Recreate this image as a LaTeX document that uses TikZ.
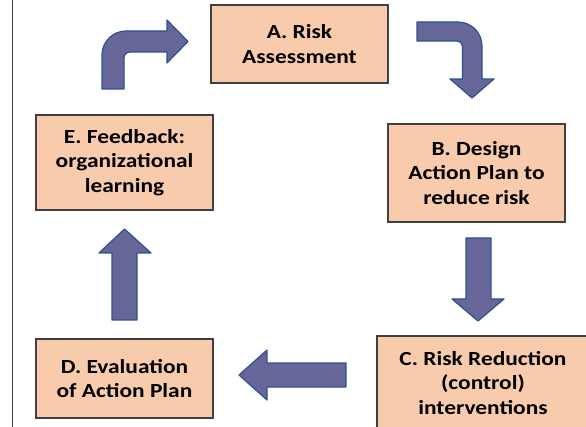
\documentclass[tikz,border=0pt]{standalone}
\usepackage{fontspec}
\setmainfont{Carlito}
\newfontfamily\stepfont[FakeStretch=1.17]{Carlito}
\usepackage{tikz}

\definecolor{boxfill}{RGB}{248,203,173}
\definecolor{boxline}{RGB}{64,64,64}
\definecolor{arrowfill}{RGB}{102,102,153}
\definecolor{arrowline}{RGB}{47,82,143}

\tikzset{
  stepbox/.style={draw=boxline, fill=boxfill, line width=1.2pt, align=center,
    font=\stepfont\fontsize{20}{24.5}\selectfont\bfseries, inner sep=0pt},
  blockarrow/.style={draw=arrowline, fill=arrowfill, line width=1.2pt, line join=round}
}

\begin{document}
\begin{tikzpicture}[x=1pt,y=-1pt]
  \useasboundingbox (0,0) rectangle (586,427);

  % Frame line on the left
  \draw[boxline, line width=1pt] (12,0) -- (12,427);

  % The five steps
  \node[stepbox, minimum width=177, minimum height=78] (A) at (299.5,44) {A. Risk\\Assessment};
  \node[stepbox, minimum width=177, minimum height=98] (B) at (476.5,173) {B. Design\\Action Plan to\\reduce risk};
  \node[stepbox, minimum width=212, minimum height=94] (C) at (483,383) {C. Risk Reduction\\(control)\\interventions};
  \node[stepbox, minimum width=177, minimum height=79] (D) at (124.5,378.5) {D. Evaluation\\of Action Plan};
  \node[stepbox, minimum width=177, minimum height=95] (E) at (124.5,162.5) {E. Feedback:\\organizational\\learning};

  % Bent arrow from E up and over to A
  \draw[blockarrow] (102,89) [rounded corners=24pt] -- (102,31) [sharp corners] -- (167,31)
    -- (167,20) -- (188,41.5) -- (167,63) -- (167,52) [rounded corners=6pt] -- (124,52)
    [sharp corners] -- (124,89) -- cycle;

  % Bent arrow from A over and down to B
  \draw[blockarrow] (417,22) [rounded corners=24pt] -- (482,22) [sharp corners] -- (482,79)
    -- (494,79) -- (472,98) -- (450,79) -- (462.5,79) [rounded corners=6pt] -- (462.5,41)
    [sharp corners] -- (417,41) -- cycle;

  % Straight arrows B to C, C to D, D to E
  \draw[blockarrow] (466,238) -- (491,238) -- (491,299) -- (504,299) -- (478,321)
    -- (452,299) -- (466,299) -- cycle;
  \draw[blockarrow] (346,363) -- (267,363) -- (267,350) -- (239,375) -- (267,400)
    -- (267,387) -- (346,387) -- cycle;
  \draw[blockarrow] (112,320) -- (112,253) -- (99,253) -- (124.5,229) -- (151,253)
    -- (137,253) -- (137,320) -- cycle;
\end{tikzpicture}
\end{document}
